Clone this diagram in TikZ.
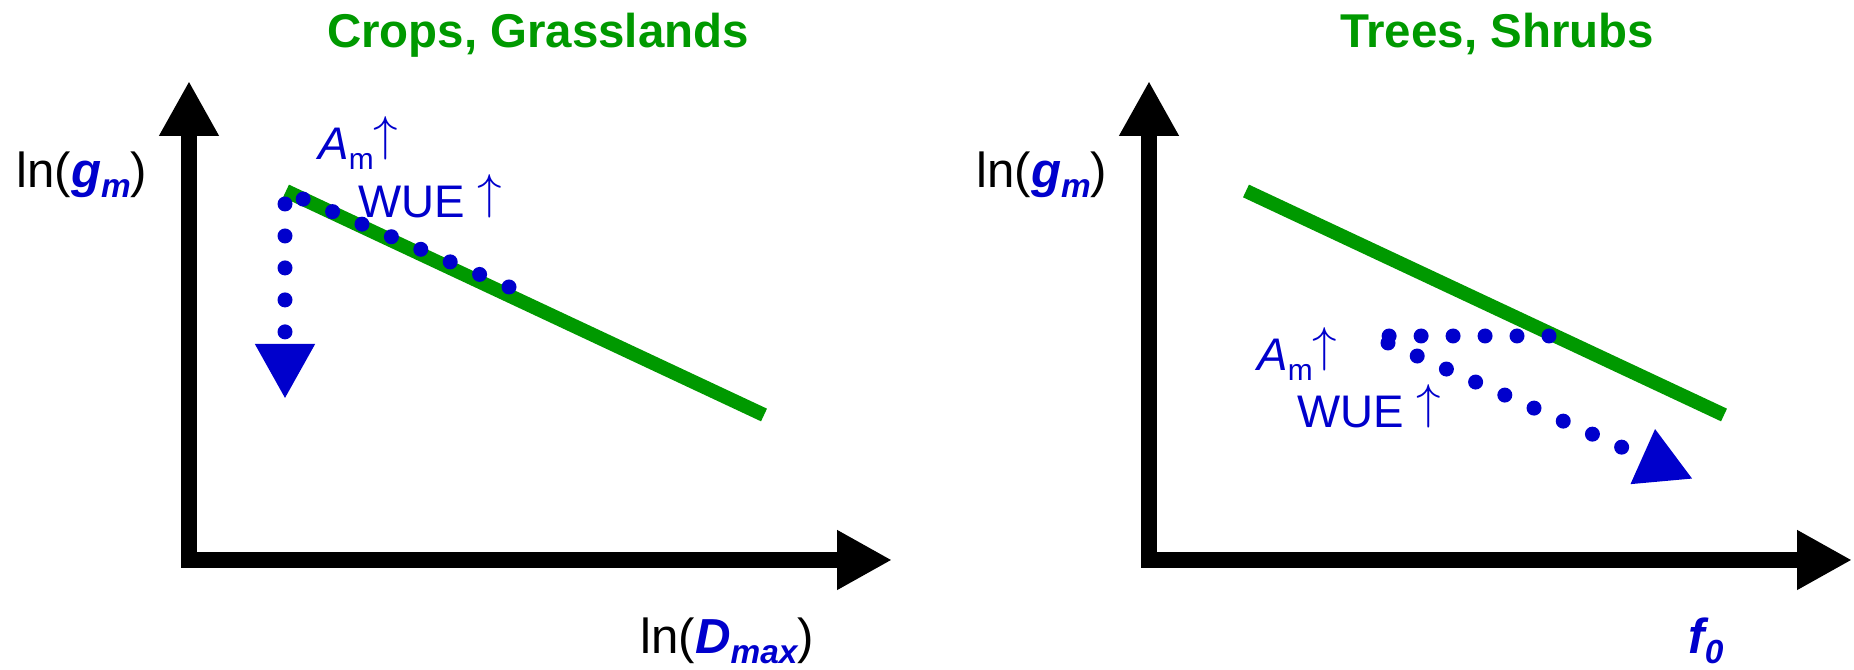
\documentclass[tikz,border=0pt]{standalone}
\usepackage{fontspec}
\setmainfont{Liberation Sans}
\usetikzlibrary{arrows.meta}
\definecolor{leafgreen}{HTML}{009900}
\definecolor{varblue}{HTML}{0000CC}
\newcommand{\lowsub}[2]{\raisebox{-0.2em}{\fontsize{#1}{#1}\selectfont #2}}
\newcommand{\upar}{\raisebox{5.4pt}{\scalebox{1.12}{$\uparrow$}}}
\tikzset{
  bigtip/.tip={Triangle[length=1.1cm,width=1.12cm]},
  axis/.style={line width=0.32cm, line join=miter, bigtip-bigtip},
  fitline/.style={leafgreen, line width=0.28cm},
  dotline/.style={varblue, line width=0.3cm, line cap=round, dash pattern=on 0pt off 0.6395cm},
  dotarrow/.style={dotline, -bigtip},
  title/.style={leafgreen, inner sep=0pt, anchor=base, font=\bfseries\fontsize{27}{30}\selectfont},
  lbl/.style={inner sep=0pt, anchor=base west, font=\fontsize{28}{30}\selectfont},
  note/.style={varblue, inner sep=0pt, anchor=base west, font=\fontsize{26}{28}\selectfont}
}
\begin{document}
\begin{tikzpicture}
\useasboundingbox (0,0) rectangle (37.08,13.4);
% axes and fitted lines, both panels
\foreach \dx/\p in {0/L,19.2/R}{
  \coordinate (ytip\p) at (3.78+\dx,11.78);
  \coordinate (orig\p) at (3.78+\dx,2.2);
  \coordinate (xtip\p) at (17.84+\dx,2.2);
  \draw[axis] (ytip\p) -- (orig\p) -- (xtip\p);
  \coordinate (fitA\p) at (5.72+\dx,9.58);
  \coordinate (fitB\p) at (15.28+\dx,5.10);
  \draw[fitline] (fitA\p) -- (fitB\p);
}
% left panel: shift along line, then down
\coordinate (slopeA) at (10.18,7.66);
\coordinate (slopeB) at (6.06,9.42);
\draw[dotline] (slopeA) -- (slopeB);
\coordinate (dropA) at (5.70,9.32);
\coordinate (dropB) at (5.70,5.42);
\draw[dotarrow] (dropA) -- (dropB);
% right panel: off the line, then parallel down
\coordinate (flatA) at (30.98,6.68);
\coordinate (flatB) at (27.78,6.68);
\draw[dotline] (flatA) -- (flatB);
\coordinate (parA) at (27.76,6.54);
\coordinate (parB) at (33.86,3.82);
\draw[dotarrow] (parA) -- (parB);
% titles
\node[title] (ttlL) at (10.76,12.44) {Crops, Grasslands};
\node[title] (ttlR) at (29.94,12.44) {Trees, Shrubs};
% axis labels
\node[lbl] (ylabL) at (0.32,9.64) {ln({\color{varblue}\bfseries\itshape g\lowsub{19}{m}})};
\node[lbl] (ylabR) at (19.52,9.64) {ln({\color{varblue}\bfseries\itshape g\lowsub{19}{m}})};
\node[lbl] (xlabL) at (12.80,0.32) {ln({\color{varblue}\bfseries\itshape D\lowsub{19}{max}})};
\node[lbl] (xlabR) at (33.76,0.32) {{\color{varblue}\bfseries\itshape f\lowsub{19}{0}}};
% notes
\node[note] (amL) at (6.36,10.2) {{\itshape A}\lowsub{17}{m}\upar};
\node[note] (wueL) at (7.16,9.04) {WUE \upar};
\node[note] (amR) at (25.14,5.98) {{\itshape A}\lowsub{17}{m}\upar};
\node[note] (wueR) at (25.94,4.84) {WUE \upar};
\end{tikzpicture}
\end{document}
